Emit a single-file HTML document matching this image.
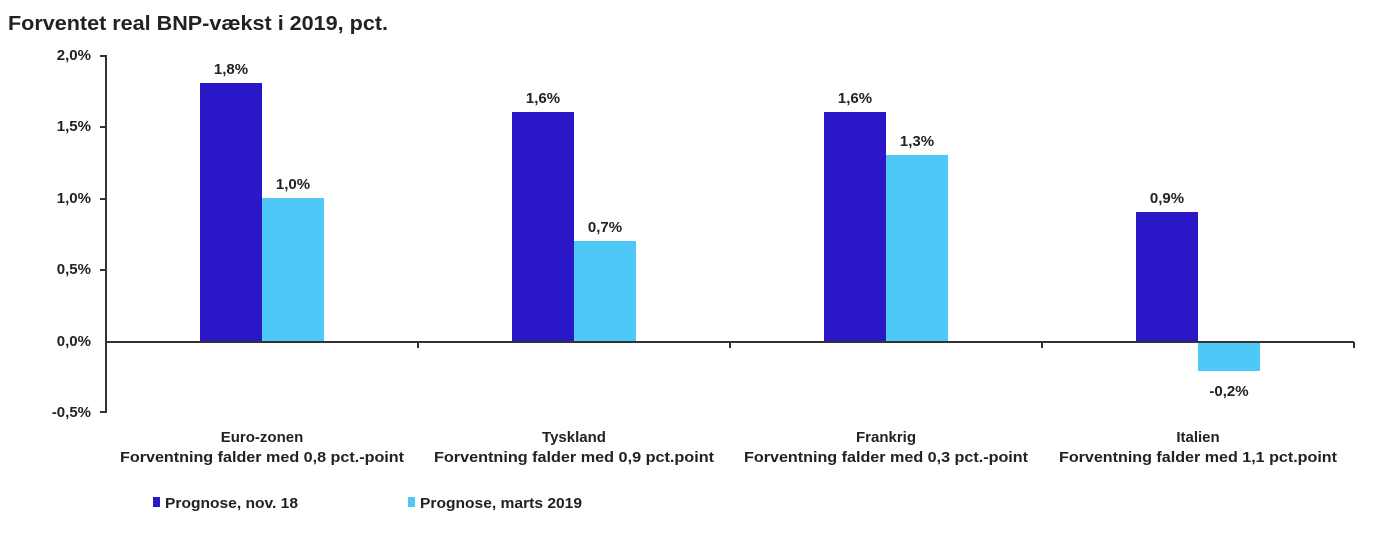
<!DOCTYPE html>
<html><head><meta charset="utf-8"><style>
body{margin:0;background:#fff;width:1397px;height:529px;overflow:hidden}
svg text{font-family:"Liberation Sans",sans-serif;font-weight:bold;fill:#222}
</style></head><body>
<svg width="1397" height="529" viewBox="0 0 1397 529">
<text x="8" y="30" font-size="20" textLength="380" lengthAdjust="spacingAndGlyphs" fill="#111">Forventet real BNP-vækst i 2019, pct.</text>
<g font-size="15" text-anchor="end">
<text x="91" y="60">2,0%</text>
<text x="91" y="131">1,5%</text>
<text x="91" y="203">1,0%</text>
<text x="91" y="274">0,5%</text>
<text x="91" y="346">0,0%</text>
<text x="91" y="417">-0,5%</text>
</g>
<g fill="#2a17c8">
<rect x="200" y="83" width="62" height="259"/>
<rect x="512" y="112" width="62" height="230"/>
<rect x="824" y="112" width="62" height="230"/>
<rect x="1136" y="212" width="62" height="130"/>
</g>
<g fill="#4dc8f7">
<rect x="262" y="198" width="62" height="144"/>
<rect x="574" y="241" width="62" height="101"/>
<rect x="886" y="155" width="62" height="187"/>
<rect x="1198" y="342" width="62" height="29"/>
</g>
<g stroke="#333" stroke-width="2" fill="none">
<line x1="106" y1="55" x2="106" y2="413"/>
<line x1="106" y1="342" x2="1354" y2="342"/>
<line x1="100" y1="56" x2="106" y2="56"/>
<line x1="100" y1="127" x2="106" y2="127"/>
<line x1="100" y1="199" x2="106" y2="199"/>
<line x1="100" y1="270" x2="106" y2="270"/>
<line x1="100" y1="412" x2="106" y2="412"/>
<line x1="418" y1="342" x2="418" y2="348"/>
<line x1="730" y1="342" x2="730" y2="348"/>
<line x1="1042" y1="342" x2="1042" y2="348"/>
<line x1="1354" y1="342" x2="1354" y2="348"/>
</g>
<g font-size="15" text-anchor="middle">
<text x="231" y="74">1,8%</text>
<text x="293" y="189">1,0%</text>
<text x="543" y="103">1,6%</text>
<text x="605" y="232">0,7%</text>
<text x="855" y="103">1,6%</text>
<text x="917" y="146">1,3%</text>
<text x="1167" y="203">0,9%</text>
<text x="1229" y="396">-0,2%</text>
<text x="262" y="442">Euro-zonen</text>
<text x="262" y="462" textLength="284" lengthAdjust="spacingAndGlyphs">Forventning falder med 0,8 pct.-point</text>
<text x="574" y="442">Tyskland</text>
<text x="574" y="462" textLength="280" lengthAdjust="spacingAndGlyphs">Forventning falder med 0,9 pct.point</text>
<text x="886" y="442">Frankrig</text>
<text x="886" y="462" textLength="284" lengthAdjust="spacingAndGlyphs">Forventning falder med 0,3 pct.-point</text>
<text x="1198" y="442">Italien</text>
<text x="1198" y="462" textLength="278" lengthAdjust="spacingAndGlyphs">Forventning falder med 1,1 pct.point</text>
</g>
<rect x="153" y="497" width="7" height="10" fill="#2a17c8"/>
<text x="165" y="508" font-size="15" textLength="133" lengthAdjust="spacingAndGlyphs">Prognose, nov. 18</text>
<rect x="408" y="497" width="7" height="10" fill="#4dc8f7"/>
<text x="420" y="508" font-size="15" textLength="162" lengthAdjust="spacingAndGlyphs">Prognose, marts 2019</text>
</svg>
</body></html>
